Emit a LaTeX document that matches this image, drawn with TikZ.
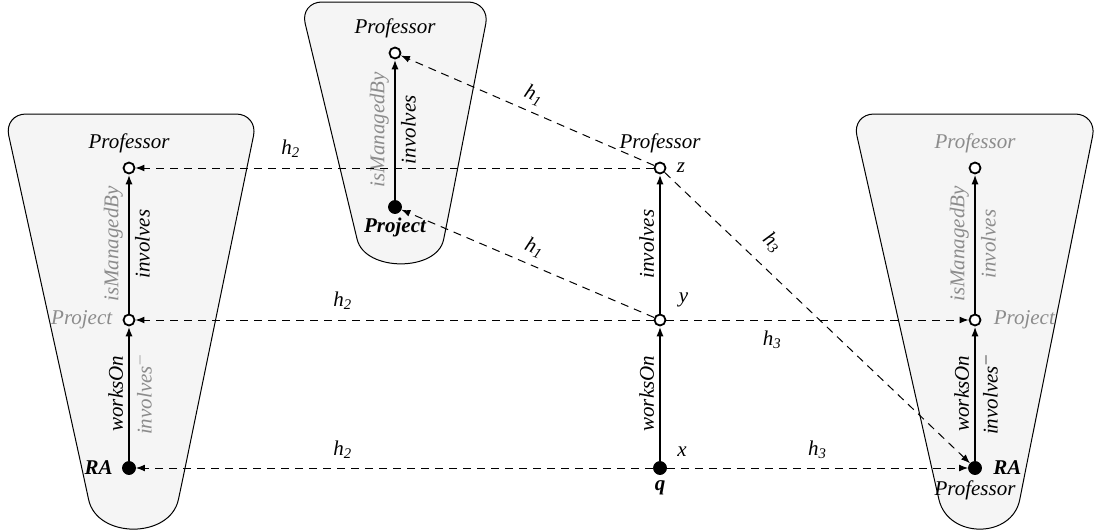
\documentclass[tikz,border=0pt]{standalone}
\usepackage{fontspec}
\setmainfont{Liberation Serif}
\usetikzlibrary{arrows.meta,positioning}

\newcommand{\hl}[1]{\textit{h}\textsubscript{#1}}

\tikzset{
  obj/.style={circle,draw,fill=white,line width=0.9pt,inner sep=0pt,minimum size=5.5pt},
  ind/.style={circle,draw,fill=black,inner sep=0pt,minimum size=6.5pt},
  role/.style={line width=1pt,-{Latex[length=5pt,width=3.6pt]}},
  hom/.style={dash pattern=on 4pt off 3pt,line width=0.5pt,-{Latex[length=4.5pt,width=3.4pt]}},
  txt/.style={font=\fontsize{10.5}{12}\selectfont\itshape,inner sep=1pt},
  dim/.style={text=black!45},
  cone/.style={draw,line width=0.5pt,fill=black!4,rounded corners=11pt},
}

\begin{document}
\begin{tikzpicture}[x=0.5pt,y=-0.5pt]
  \useasboundingbox (0,0) rectangle (1097,530);
  % the three models
  \path[cone] (4,114) -- (258,114) -- (183,478) .. controls (170,539) and (97,539) .. (84,478) -- cycle;
  \path[cone] (300,2) -- (490,2) -- (448,218) .. controls (437,272) and (365,272) .. (352,218) -- cycle;
  \path[cone] (852,114) -- (1097,114) -- (1024,478) .. controls (1012,539) and (948,539) .. (934,478) -- cycle;

  % left model
  \node[obj] (lp) at (129,168) {};
  \node[obj] (lq) at (129,320) {};
  \node[ind] (lr) at (129,468) {};
  \node[txt,above=3pt of lp] (lpt) {Professor};
  \node[txt,dim,left=4pt of lq] (lqt) {Project};
  \node[txt,left=3.5pt of lr] (lrt) {\textbf{RA}};
  \draw[role] (lr) -- node[txt,midway,sloped,above=1.5pt] (lrq1) {worksOn}
                      node[txt,dim,midway,sloped,below=1.5pt] (lrq2) {involves$^-$} (lq);
  \draw[role] (lq) -- node[txt,dim,midway,sloped,above=1.5pt] (lqp1) {isManagedBy}
                      node[txt,midway,sloped,below=1.5pt] (lqp2) {involves} (lp);

  % top model
  \node[obj] (tp) at (395,53) {};
  \node[ind] (tq) at (395,207) {};
  \node[txt,above=3pt of tp] (tpt) {Professor};
  \node[txt,below=1pt of tq] (tqt) {\textbf{Project}};
  \draw[role] (tq) -- node[txt,dim,midway,sloped,above=1.5pt] (tqp1) {isManagedBy}
                      node[txt,midway,sloped,below=1.5pt] (tqp2) {involves} (tp);

  % query
  \node[obj] (z) at (660,168) {};
  \node[obj] (y) at (660,320) {};
  \node[ind] (x) at (660,468) {};
  \node[txt,above=3pt of z] (zt) {Professor};
  \node[txt,right=4pt of z] (zl) {z};
  \node[txt,above right=3pt and 6pt of y] (yl) {y};
  \node[txt,above right=2pt and 5pt of x] (xl) {x};
  \node[txt,below=1.5pt of x] (xt) {\textbf{q}};
  \draw[role] (x) -- node[txt,midway,sloped,above=1.5pt] (xy) {worksOn} (y);
  \draw[role] (y) -- node[txt,midway,sloped,above=1.5pt] (yz) {involves} (z);

  % right model
  \node[obj] (rp) at (975,168) {};
  \node[obj] (rq) at (975,320) {};
  \node[ind] (rr) at (975,468) {};
  \node[txt,dim,above=3pt of rp] (rpt) {Professor};
  \node[txt,dim,right=5pt of rq] (rqt) {Project};
  \node[txt,right=4.5pt of rr] (rrt) {\textbf{RA}};
  \node[txt,below=1.5pt of rr] (rrb) {Professor};
  \draw[role] (rr) -- node[txt,midway,sloped,above=1.5pt] (rrq1) {worksOn}
                      node[txt,midway,sloped,below=1.5pt] (rrq2) {involves$^-$} (rq);
  \draw[role] (rq) -- node[txt,dim,midway,sloped,above=1.5pt] (rqp1) {isManagedBy}
                      node[txt,dim,midway,sloped,below=1.5pt] (rqp2) {involves} (rp);

  % homomorphisms
  \draw[hom] (z) -- node[txt,pos=0.7,above=4pt] (h2a) {\hl{2}} (lp);
  \draw[hom] (y) -- node[txt,pos=0.6,above=4pt] (h2b) {\hl{2}} (lq);
  \draw[hom] (x) -- node[txt,pos=0.6,above=3.5pt] (h2c) {\hl{2}} (lr);
  \draw[hom] (z) -- node[txt,pos=0.5,sloped,above=2.5pt] (h1a) {\hl{1}} (tp);
  \draw[hom] (y) -- node[txt,pos=0.5,sloped,above=3pt] (h1b) {\hl{1}} (tq);
  \draw[hom] (y) -- node[txt,pos=0.35,below=4pt] (h3a) {\hl{3}} (rq);
  \draw[hom] (x) -- node[txt,pos=0.5,above=3.5pt] (h3b) {\hl{3}} (rr);
  \draw[hom] (z) -- node[txt,pos=0.3,sloped,above=6pt] (h3c) {\hl{3}} (rr);
\end{tikzpicture}
\end{document}
